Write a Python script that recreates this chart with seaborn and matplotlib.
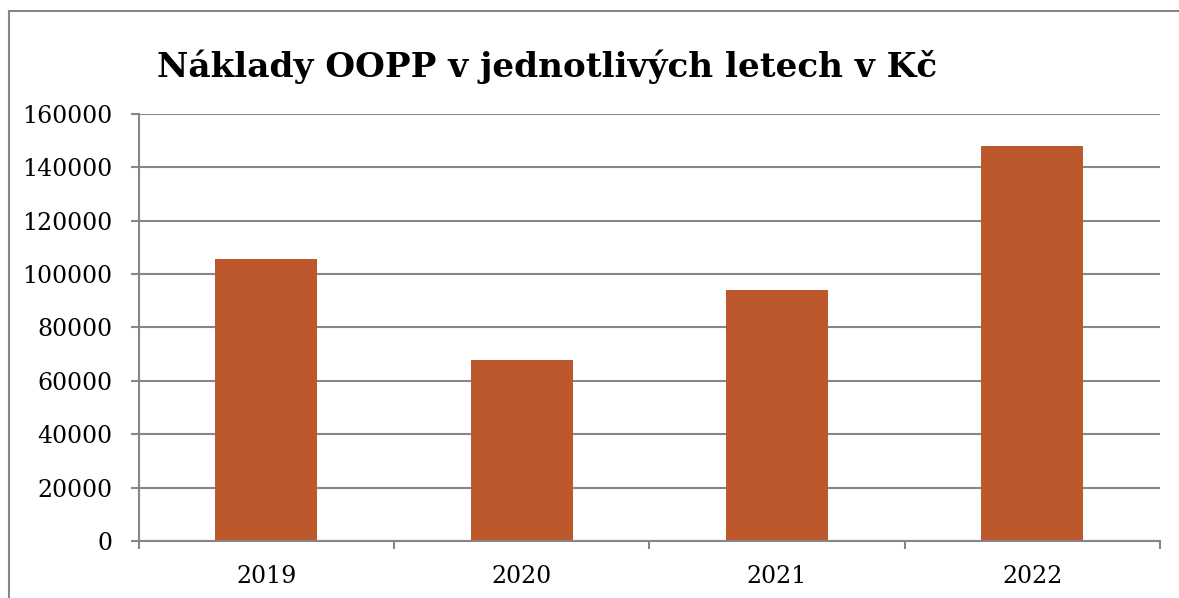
import pandas as pd
import matplotlib.pyplot as plt
import matplotlib.lines as mlines
import seaborn as sns

# data
years = ["2019", "2020", "2021", "2022"]
costs = [105800, 68000, 94000, 148000]
y_ticks = [0, 20000, 40000, 60000, 80000, 100000, 120000, 140000, 160000]
title = "Náklady OOPP v jednotlivých letech v Kč"

bar_color = "#BD582C"
grid_color = "#868686"

sns.set_style("white")
plt.rcParams["font.family"] = ["DejaVu Serif"]
plt.rcParams["text.color"] = "black"
plt.rcParams["xtick.labelcolor"] = "black"
plt.rcParams["ytick.labelcolor"] = "black"

df = pd.DataFrame({"rok": years, "naklady": costs})

fig = plt.figure(figsize=(11.79, 5.98), dpi=100)
ax = fig.add_axes([0.1176, 0.0953, 0.8663, 0.7141])

sns.barplot(data=df, x="rok", y="naklady", order=years, color=bar_color,
            saturation=1, width=0.4, errorbar=None, ax=ax, zorder=3,
            linewidth=0)

ax.set_ylim(0, 160000)
ax.set_xlim(-0.5, 3.5)
ax.set_yticks(y_ticks)
ax.set_yticklabels([str(t) for t in y_ticks])
ax.yaxis.grid(True, color=grid_color, linewidth=1.5, zorder=0)
ax.set_axisbelow(True)

for s in ["top", "right"]:
    ax.spines[s].set_visible(False)
for s in ["left", "bottom"]:
    ax.spines[s].set_color(grid_color)
    ax.spines[s].set_linewidth(1.5)
ax.spines["bottom"].set_zorder(4)

# category boundary ticks on the x axis
ax.set_xticks([-0.5, 0.5, 1.5, 2.5, 3.5], minor=True)
ax.set_xticks(range(len(years)))
ax.set_xticklabels(years)
ax.tick_params(axis="x", which="major", length=0, pad=17, labelsize=17)
ax.tick_params(axis="x", which="minor", length=6, width=1.5, color=grid_color, direction="out")
ax.tick_params(axis="y", length=6, width=1.5, color=grid_color, pad=13, labelsize=17, direction="out")
ax.tick_params(axis="both", bottom=True, left=True)
ax.xaxis.set_tick_params(which="minor", bottom=True)

ax.set_xlabel("")
ax.set_ylabel("")

fig.text(157 / 1179, 1 - 77 / 598, title, fontsize=24.7, fontweight="bold",
         ha="left", va="baseline", color="black")

# chart frame: one polyline, left edge then top edge
fx = 9 / 1179
fy = 1 - 11 / 598
fig.add_artist(mlines.Line2D([fx, fx, 1.0], [0.0, fy, fy], color=grid_color,
                             linewidth=1.5, solid_joinstyle="miter"))

fig.savefig("out.png", dpi=100)
